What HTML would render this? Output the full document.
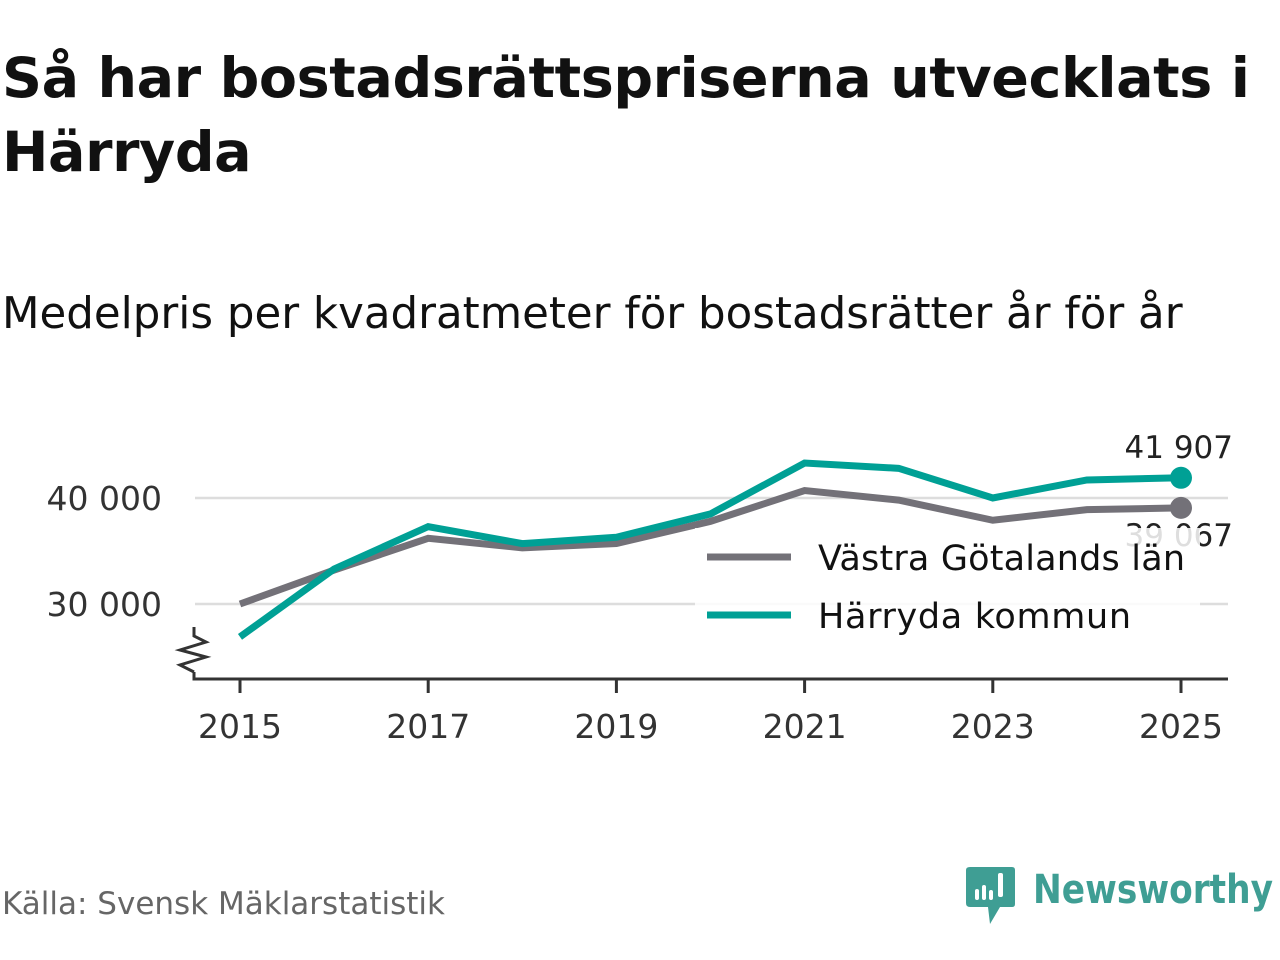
<!DOCTYPE html>
<html><head><meta charset="utf-8">
<style>
html,body{margin:0;padding:0;background:#fff;}
body{width:1280px;height:960px;position:relative;overflow:hidden;font-family:"DejaVu Sans","Liberation Sans",sans-serif;}
#title{position:absolute;left:2px;top:42px;margin:0;font-size:55.5px;line-height:74px;font-weight:bold;color:#111;white-space:nowrap;letter-spacing:-0.4px;}
#subtitle{position:absolute;left:2px;top:289px;font-size:43.5px;color:#111;white-space:nowrap;}
#source{position:absolute;left:2px;top:886px;font-size:31px;color:#666;}
svg{position:absolute;left:0;top:0;}
</style></head>
<body>
<h1 id="title">Så har bostadsrättspriserna utvecklats i<br>Härryda</h1>
<div id="subtitle">Medelpris per kvadratmeter för bostadsrätter år för år</div>
<div id="source">Källa: Svensk Mäklarstatistik</div>
<svg id="chart" width="1280" height="960"></svg>
<script>
const years=[2015,2016,2017,2018,2019,2020,2021,2022,2023,2024,2025];
const vastra=[30000,33200,36200,35300,35700,37800,40700,39800,37900,38900,39067];
const harryda=[26900,33300,37300,35700,36300,38500,43300,42800,40000,41700,41907];
const yTicks=[30000,40000];
const xTicks=[2015,2017,2019,2021,2023,2025];
const endLabels=["41 907","39 067"];

const NS="http://www.w3.org/2000/svg";
const svg=document.getElementById('chart');
const x=v=>240+(v-2015)*94.1;
const y=v=>498-(v-40000)*0.0106;
function mk(tag,attrs,parent){const e=document.createElementNS(NS,tag);for(const k in attrs)e.setAttribute(k,attrs[k]);(parent||svg).appendChild(e);return e;}
const fmt=v=>String(v).replace(/\B(?=(\d{3})+(?!\d))/g,' ');

yTicks.forEach(t=>{
  const g=mk('line',{x1:195,x2:1228,y1:y(t),y2:y(t),stroke:'#dddddd','stroke-width':2.5});
  
  
  const l=mk('text',{x:162,y:y(t)+12,'text-anchor':'end','font-size':33,fill:'#333'});
  l.textContent=fmt(t);
  
  
});
const ax=mk('path',{d:'M194 672 V679 H1228',fill:'none',stroke:'#333','stroke-width':3});


const zz=mk('path',{d:'M194 627 V636 L206 642 L180 650 L206 657 L180 665 L194 672',fill:'none',stroke:'#333','stroke-width':3});


xTicks.forEach(t=>{
  const tk=mk('line',{x1:x(t),x2:x(t),y1:679,y2:693,stroke:'#333','stroke-width':3});
  
  
  const l=mk('text',{x:x(t),y:738,'text-anchor':'middle','font-size':33,fill:'#333'});
  l.textContent=t;
  
  
});
function series(vals,color,name){
  const p=mk('polyline',{points:vals.map((v,i)=>x(years[i])+','+y(v)).join(' '),fill:'none',stroke:color,'stroke-width':7,'stroke-linejoin':'miter'});
  
  
  const n=vals.length-1;
  const c=mk('circle',{cx:x(years[n]),cy:y(vals[n]),r:11,fill:color});
  
  
}
series(vastra,'#737178','vastra');
series(harryda,'#00a095','harryda');
const t1=mk('text',{x:1233,y:y(harryda[10])-20,'text-anchor':'end','font-size':31,fill:'#222'});
t1.textContent=endLabels[0];


const t2=mk('text',{x:1233,y:y(vastra[10])+38,'text-anchor':'end','font-size':31,fill:'#222'});
t2.textContent=endLabels[1];


const lg=mk('g',{});


mk('rect',{x:695,y:528,width:505,height:112,fill:'#fff','fill-opacity':0.85},lg);
[['Västra Götalands län','#737178',557],['Härryda kommun','#00a095',615]].forEach(([n,c,yy])=>{
  const e=mk('g',{},lg);
  
  
  mk('line',{x1:707,x2:791,y1:yy,y2:yy,stroke:c,'stroke-width':7},e);
  const t=mk('text',{x:818,y:yy+13,'font-size':35,fill:'#111',textLength:n.length>16?367:313},e);
  t.textContent=n;
});
// logo
const logo=mk('g',{});


mk('path',{d:'M970 867 H1012 Q1015 867 1015 870 V904 Q1015 907 1012 907 H1000 L990 924 L988 907 H970 Q966 907 966 903 V870 Q966 867 970 867 Z',fill:'#3f9e94'},logo);
[[975,889,4,11],[982,885,4,15],[989,890,4,10],[998,873,5,24]].forEach(r=>mk('rect',{x:r[0],y:r[1],width:r[2],height:r[3],rx:2,fill:'#fff'},logo));
const lt=mk('text',{x:1033,y:903,'font-size':40,fill:'#3f9e94','font-weight':'bold',textLength:240,lengthAdjust:'spacingAndGlyphs'},logo);
lt.textContent='Newsworthy';
</script>
</body></html>
